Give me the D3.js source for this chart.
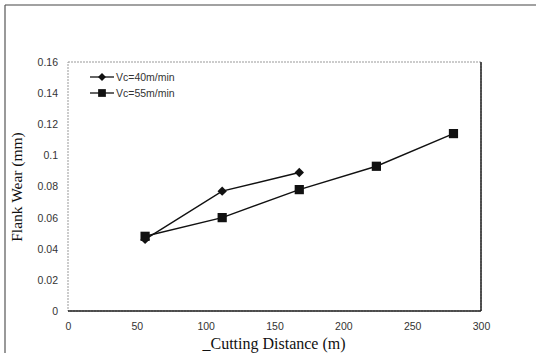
<!DOCTYPE html>
<html>
<head>
<meta charset="utf-8">
<script src="https://cdn.jsdelivr.net/npm/d3@7"></script>
<style>
  body { margin: 0; background: #fff; }
  svg { display: block; }
</style>
</head>
<body>
<svg id="drawing_region"></svg>
<script>
// values
var distance40 = [56, 112, 168];
var wear40 = [0.046, 0.077, 0.089];
var distance55 = [56, 112, 168, 224, 280];
var wear55 = [0.048, 0.060, 0.078, 0.093, 0.114];
var xticks = [0, 50, 100, 150, 200, 250, 300];
var yticks = [0, 0.02, 0.04, 0.06, 0.08, 0.1, 0.12, 0.14, 0.16];
var seriesNames = ['Vc=40m/min', 'Vc=55m/min'];

var width = 536, height = 353;
var margin = {top: 62, right: 55, bottom: 42, left: 68};
var inner_width = width - margin.left - margin.right;
var inner_height = height - margin.top - margin.bottom;

var svg = d3.select('#drawing_region')
    .attr('width', width)
    .attr('height', height);

// outer frame of the scanned figure (top and left edges)
svg.append('line')
    .attr('x1', 5).attr('y1', 5).attr('x2', 536).attr('y2', 5)
    .attr('stroke', '#444').attr('stroke-width', 1.2);
svg.append('line')
    .attr('x1', 5).attr('y1', 5).attr('x2', 5).attr('y2', 353)
    .attr('stroke', '#555').attr('stroke-width', 1.2);

var chart = svg.append('g')
    .attr('transform', `translate(${margin.left}, ${margin.top})`);

var xscale = d3.scaleLinear().domain([0, 300]).range([0, inner_width]);
var yscale = d3.scaleLinear().domain([0, 0.16]).range([inner_height, 0]);

// plot frame
chart.append('rect')
    .attr('x', 0).attr('y', 0)
    .attr('width', inner_width).attr('height', inner_height)
    .attr('fill', 'none')
    .attr('stroke', '#999')
    .attr('stroke-dasharray', '2,1');
chart.append('line')
    .attr('x1', inner_width).attr('y1', 0)
    .attr('x2', inner_width).attr('y2', inner_height)
    .attr('stroke', '#222').attr('stroke-width', 1.5);
chart.append('line')
    .attr('x1', 0).attr('y1', inner_height)
    .attr('x2', inner_width).attr('y2', inner_height)
    .attr('stroke', '#222').attr('stroke-width', 1.5);

var xaxis = d3.axisBottom(xscale).tickValues(xticks).tickSize(0).tickPadding(12);
var yaxis = d3.axisLeft(yscale).tickValues(yticks).tickSize(0).tickPadding(10)
    .tickFormat(d => d === 0 ? '0' : String(+d.toFixed(2)));

var xg = chart.append('g')
    .attr('transform', `translate(0, ${inner_height})`)
    .call(xaxis);
var yg = chart.append('g').call(yaxis);
[xg, yg].forEach(g => {
    g.select('.domain').remove();
    g.selectAll('text')
        .attr('font-family', 'Liberation Sans, Arial, sans-serif')
        .attr('font-size', 10.5)
        .attr('fill', '#333');
});

// series
var s40 = distance40.map((d, i) => ({x: d, y: wear40[i]}));
var s55 = distance55.map((d, i) => ({x: d, y: wear55[i]}));
var line = d3.line().x(d => xscale(d.x)).y(d => yscale(d.y));

chart.append('path').datum(s40)
    .attr('d', line).attr('fill', 'none')
    .attr('stroke', '#111').attr('stroke-width', 1.4);
chart.append('path').datum(s55)
    .attr('d', line).attr('fill', 'none')
    .attr('stroke', '#111').attr('stroke-width', 1.4);

var diamond = d3.symbol().type(d3.symbolDiamond2).size(56);
var square = d3.symbol().type(d3.symbolSquare).size(85);

chart.selectAll('.m55').data(s55).enter()
    .append('path').attr('class', 'm55')
    .attr('d', square)
    .attr('transform', d => `translate(${xscale(d.x)}, ${yscale(d.y)})`)
    .attr('fill', '#111');
chart.selectAll('.m40').data(s40).enter()
    .append('path').attr('class', 'm40')
    .attr('d', diamond)
    .attr('transform', d => `translate(${xscale(d.x)}, ${yscale(d.y)})`)
    .attr('fill', '#111');

// legend
var legend = chart.append('g').attr('transform', 'translate(22, 15)');
[0, 1].forEach(i => {
    var g = legend.append('g').attr('transform', `translate(0, ${i * 16})`);
    g.append('line').attr('x1', 0).attr('x2', 24).attr('y1', 0).attr('y2', 0)
        .attr('stroke', '#111').attr('stroke-width', 1.3);
    g.append('path').attr('d', i === 0 ? d3.symbol().type(d3.symbolDiamond2).size(40) : d3.symbol().type(d3.symbolSquare).size(60))
        .attr('transform', 'translate(12, 0)').attr('fill', '#111');
    g.append('text').attr('x', 26).attr('y', 4)
        .attr('font-family', 'Liberation Sans, Arial, sans-serif')
        .attr('font-size', 10.5).attr('fill', '#333')
        .text(seriesNames[i]);
});

// axis titles
svg.append('text')
    .attr('x', 274).attr('y', 349)
    .attr('text-anchor', 'middle')
    .attr('font-family', 'Liberation Serif, Times New Roman, serif')
    .attr('font-size', 16).attr('fill', '#111')
    .text('_Cutting Distance (m)');
svg.append('text')
    .attr('transform', 'translate(22, 187) rotate(-90)')
    .attr('text-anchor', 'middle')
    .attr('font-family', 'Liberation Serif, Times New Roman, serif')
    .attr('font-size', 15.5).attr('fill', '#111')
    .text('Flank Wear (mm)');
</script>
</body>
</html>
